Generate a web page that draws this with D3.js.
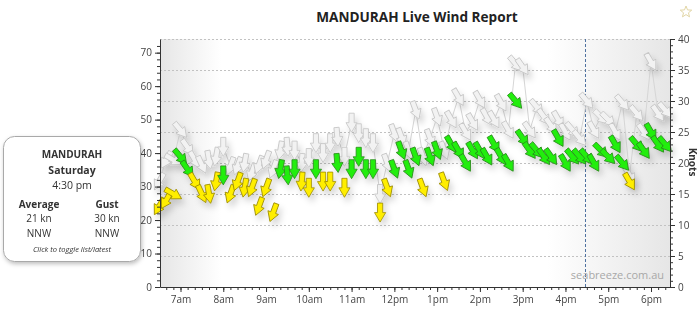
<!DOCTYPE html>
<html><head><meta charset="utf-8">
<script src="https://cdn.jsdelivr.net/npm/d3@7"></script>
<style>
html,body{margin:0;padding:0;background:#fff;}
svg{display:block;font-family:"Open Sans",sans-serif;}
</style></head>
<body>
<svg id="c" width="700" height="322"></svg>
<script>
// ---- data ----
const times = ["6:30","6:40","6:50","7:00","7:10","7:20","7:30","7:40","7:50",
 "8:00","8:10","8:20","8:30","8:40","8:50","9:00","9:10","9:20","9:30","9:40","9:50",
 "10:00","10:10","10:20","10:30","10:40","10:50","11:00","11:10","11:20","11:30","11:40","11:50",
 "12:00","12:10","12:20","12:30","12:40","12:50","13:00","13:10","13:20","13:30","13:40","13:50",
 "14:00","14:10","14:20","14:30","14:40","14:50","15:00","15:10","15:20","15:30","15:40","15:50",
 "16:00","16:10","16:20","16:30","16:40","16:50","17:00","17:10","17:20","17:30","17:40","17:50",
 "18:00","18:10","18:20"];
const avgKnots = [13,14,15,21,19,17,15,15,17,
 18,15,17,16,16,13,16,12,19,18,19,17,
 16,19,17,17,20,16,19,21,19,19,12,16,
 19,22,19,21,16,21,22,17,23,22,20,22,
 22,21,23,21,20,30,24,22,22,21,21,24,
 20,21,21,21,20,22,21,23,20,17,23,22,
 25,23,23];
const gustKnots = [17,20.5,20.5,25.3,22.5,20.5,19.7,20.5,21,
 22.6,19.5,19.5,20,18.5,19.7,20.5,19,22,22.6,22,20,
 20.8,23.2,21.6,23.2,24.2,21,26.5,24.8,24,23.2,15,20,
 24.8,24.2,22,28.5,21,24,27.4,22,27,30.6,25,26.6,
 30.2,27.4,27,29.7,25.3,36,35.5,25.3,29,27.4,26,27,
 25,25.3,24,30,25.3,27.4,27,25,29.7,18,28,25,
 36.3,28,28.5];
// direction the wind comes FROM (degrees)
const windFrom = [30,30,300,320,325,330,335,350,10,
 0,20,20,10,20,20,20,20,10,355,0,5,
 0,0,0,0,355,0,0,0,0,0,0,340,
 340,340,340,340,340,340,340,340,330,330,330,330,
 330,330,330,330,330,320,325,325,320,325,325,330,
 330,320,320,320,330,315,315,330,320,330,320,325,
 330,325,320];
const hourLabels = ["7am","8am","9am","10am","11am","12pm","1pm","2pm","3pm","4pm","5pm","6pm"];
const kmhTicks = [0,10,20,30,40,50,60,70];
const knotTicks = [0,5,10,15,20,25,30,35,40];
const panel = {name:"MANDURAH", day:"Saturday", time:"4:30 pm", avg:"21 kn", gust:"30 kn", avgDir:"NNW", gustDir:"NNW"};
const nowTime = "16:30";

// ---- layout ----
const L=160, R=670, T=39, B=287;
const toMin = s => { const [h,m]=s.split(":").map(Number); return h*60+m; };
const x0 = d3.scaleLinear().domain([420,1080]).range([180.5,651]);
const x = d3.scaleLinear().domain([x0.invert(L), x0.invert(R)]).range([L,R]);
const y = d3.scaleLinear().domain([0,40]).range([B,T]);
const yKmh = d3.scaleLinear().domain([0,40*1.852]).range([B,T]);

const svg = d3.select("#c");
const defs = svg.append("defs");
const bg = defs.append("linearGradient").attr("id","bg").attr("x1","0").attr("x2","1").attr("y1","0").attr("y2","0");
[[0,"#e6e6e6"],[0.12,"#ffffff"],[0.76,"#ffffff"],[1,"#e6e6e6"]].forEach(s=>bg.append("stop").attr("offset",s[0]).attr("stop-color",s[1]));
const sh = defs.append("filter").attr("id","sh").attr("x","-50%").attr("y","-50%").attr("width","200%").attr("height","200%");
sh.append("feDropShadow").attr("dx",3).attr("dy",5).attr("stdDeviation",3).attr("flood-color","#000").attr("flood-opacity",0.16);
const ps = defs.append("filter").attr("id","ps").attr("x","-20%").attr("y","-20%").attr("width","140%").attr("height","140%");
ps.append("feDropShadow").attr("dx",1).attr("dy",2).attr("stdDeviation",2).attr("flood-color","#000").attr("flood-opacity",0.25);

// plot background
svg.append("rect").attr("x",L).attr("y",T).attr("width",R-L).attr("height",B-T).attr("fill","url(#bg)");

// gridlines
svg.append("g").selectAll("line").data(knotTicks.filter(d=>d>0)).join("line")
  .attr("x1",L).attr("x2",R).attr("y1",d=>y(d)+0.5).attr("y2",d=>y(d)+0.5)
  .attr("stroke","#c2c2c2").attr("stroke-dasharray","2,2").attr("stroke-width",1);

// now line
svg.append("line").attr("x1",Math.round(x(toMin(nowTime)))-1.5).attr("x2",Math.round(x(toMin(nowTime)))-1.5)
  .attr("y1",T).attr("y2",B).attr("stroke","#4f72a0").attr("stroke-dasharray","3,2").attr("stroke-width",1);

// watermark
svg.append("text").attr("x",R-6).attr("y",B-8).attr("text-anchor","end")
  .attr("font-size",11).attr("fill","#a8a8a8").text("seabreeze.com.au");

// data objects
const data = times.map((t,i)=>({t:toMin(t), avg:avgKnots[i], gust:gustKnots[i], dir:windFrom[i]}));
const arrowPath = "M-2.6,-9.5 L2.6,-9.5 L2.6,0 L5.6,0 L0,9.5 L-5.6,0 L-2.6,0 Z";

// gust line
svg.append("path").datum(data)
  .attr("d", d3.line().x(d=>x(d.t)).y(d=>y(d.gust)))
  .attr("fill","none").attr("stroke","#d6d6d6").attr("stroke-width",1);

// gust arrows
svg.append("g").attr("filter","url(#sh)").selectAll("path").data(data).join("path")
  .attr("d",arrowPath)
  .attr("transform",d=>`translate(${x(d.t)},${y(d.gust)}) rotate(${d.dir})`)
  .attr("fill","#f2f2f2").attr("stroke","#c8c8c8").attr("stroke-width",0.9).attr("stroke-linejoin","round");

// average arrows
svg.append("g").attr("filter","url(#sh)").selectAll("path").data(data).join("path")
  .attr("d",arrowPath)
  .attr("transform",d=>`translate(${x(d.t)},${y(d.avg)}) rotate(${d.dir})`)
  .attr("fill",d=>d.avg>=18?"#22ee11":"#ffee00")
  .attr("stroke",d=>d.avg>=18?"#2a8a1a":"#9a8a00").attr("stroke-width",0.8).attr("stroke-linejoin","round");

// axes
const axisStyle = g => { g.selectAll("path.domain").attr("stroke","#333");
  g.selectAll(".tick line").attr("stroke","#333");
  g.selectAll(".tick text").attr("fill","#444").attr("font-size",10).attr("font-family","Open Sans"); };

// left (km/h)
svg.append("g").attr("transform",`translate(${L},0)`)
  .call(d3.axisLeft(yKmh).tickValues(d3.range(0,74,2)).tickSize(3).tickFormat(""))
  .call(g=>{g.select("path.domain").remove(); g.selectAll("line").attr("stroke","#333");});
svg.append("g").attr("transform",`translate(${L},0)`)
  .call(d3.axisLeft(yKmh).tickValues(kmhTicks).tickSize(5).tickPadding(3).tickSizeOuter(0))
  .call(axisStyle);

// right (knots)
svg.append("g").attr("transform",`translate(${R},0)`)
  .call(d3.axisRight(y).tickValues(d3.range(0,41,1)).tickSize(3).tickFormat(""))
  .call(g=>{g.select("path.domain").remove(); g.selectAll("line").attr("stroke","#333");});
svg.append("g").attr("transform",`translate(${R},0)`)
  .call(d3.axisRight(y).tickValues(knotTicks).tickSize(5).tickPadding(3).tickSizeOuter(0))
  .call(axisStyle);
svg.append("text").attr("transform",`translate(689,${(T+B)/2-1}) rotate(90)`).attr("text-anchor","middle")
  .attr("font-size",10).attr("font-weight","bold").attr("fill","#333").text("Knots");

// bottom
svg.append("g").attr("transform",`translate(0,${B})`)
  .call(d3.axisBottom(x).tickValues(d3.range(400,1101,10)).tickSize(3).tickFormat(""))
  .call(g=>{g.select("path.domain").remove(); g.selectAll("line").attr("stroke","#333");});
svg.append("g").attr("transform",`translate(0,${B})`)
  .call(d3.axisBottom(x).tickValues(d3.range(7,19).map(h=>h*60)).tickSize(5).tickPadding(4).tickSizeOuter(0)
    .tickFormat((d,i)=>hourLabels[i]))
  .call(axisStyle);

// title
svg.append("text").attr("x",417).attr("y",22).attr("text-anchor","middle")
  .attr("font-size",13.6).attr("font-weight","bold").attr("fill","#222").text("MANDURAH Live Wind Report");
// star
const star = d3.range(10).map(i=>{const a=Math.PI/5*i-Math.PI/2, r=i%2?2.6:6; return [686+r*Math.cos(a), 12+r*Math.sin(a)];});
svg.append("path").attr("d","M"+star.join("L")+"Z").attr("fill","none").attr("stroke","#e2d6a6").attr("stroke-width",1);

// info panel
const p = svg.append("g");
p.append("rect").attr("x",3.5).attr("y",136.5).attr("width",137).attr("height",125).attr("rx",11)
  .attr("fill","#fff").attr("stroke","#a9a9a9").attr("filter","url(#ps)");
const pt = (xx,yy,txt,w,sz,st) => p.append("text").attr("x",xx).attr("y",yy).attr("text-anchor","middle")
  .attr("font-size",sz||10).attr("font-weight",w||"normal").attr("font-style",st||"normal").attr("fill","#333").text(txt);
pt(72,158,panel.name,"bold");
pt(72,174,panel.day,"bold",10.5);
pt(72,189,panel.time,"normal",10.5);
pt(39,208,"Average","bold");
pt(107,208,"Gust","bold");
pt(39,222,panel.avg);
pt(107,222,panel.gust);
pt(39,237,panel.avgDir);
pt(107,237,panel.gustDir);
pt(72,252,"Click to toggle list/latest","normal",7.5,"italic");
</script>
</body></html>
